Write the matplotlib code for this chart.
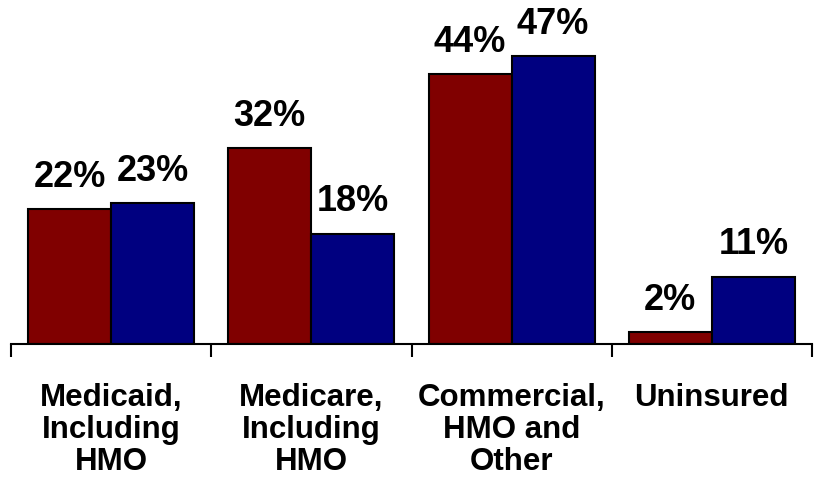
import matplotlib.pyplot as plt
import numpy as np

categories = ['Medicaid,\nIncluding\nHMO', 'Medicare,\nIncluding\nHMO',
              'Commercial,\nHMO and\nOther', 'Uninsured']
series_a = [22, 32, 44, 2]
series_b = [23, 18, 47, 11]

plt.rcParams['font.family'] = ['Liberation Sans', 'DejaVu Sans']

fig = plt.figure(figsize=(8.17, 4.9), dpi=100)
ax = fig.add_axes([11 / 817, 1 - 344 / 490, 801 / 817, 344 / 490])

x = np.arange(len(categories))
w = 0.415
bars_a = ax.bar(x - w / 2, series_a, w, color='#800000', edgecolor='black', linewidth=1.5)
bars_b = ax.bar(x + w / 2, series_b, w, color='#000080', edgecolor='black', linewidth=1.5)

for bars, vals in [(bars_a, series_a), (bars_b, series_b)]:
    for b, v in zip(bars, vals):
        ax.annotate(f'{v}%', (b.get_x() + b.get_width() / 2, v),
                    xytext=(0, 16), textcoords='offset points',
                    ha='center', va='baseline', fontsize=26, fontweight='bold')

ax.set_xlim(-0.5, 3.5)
ax.set_ylim(0, 56.1)

for s in ['top', 'right', 'left']:
    ax.spines[s].set_visible(False)
ax.spines['bottom'].set_linewidth(1.5)
ax.set_yticks([])

# ticks sit between the groups, labels at the centres
ax.set_xticks(np.arange(-0.5, 4, 1))
ax.set_xticklabels([])
ax.set_xticks(x, minor=True)
ax.set_xticklabels(categories, minor=True, fontsize=22.5, fontweight='bold', linespacing=1.1)
ax.tick_params(axis='x', which='major', length=9, width=1.5, direction='out')
ax.tick_params(axis='x', which='minor', length=0, pad=28)

fig.savefig('out.png', dpi=100)
